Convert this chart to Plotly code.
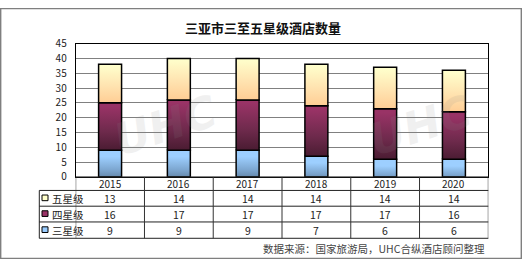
import plotly.graph_objects as go

years = ["2015", "2016", "2017", "2018", "2019", "2020"]
series_names = ["三星级", "四星级", "五星级"]
three_star = [9, 9, 9, 7, 6, 6]
four_star = [16, 17, 17, 17, 17, 16]
five_star = [13, 14, 14, 14, 14, 14]
y_ticks = [0, 5, 10, 15, 20, 25, 30, 35, 40, 45]

series_values = [three_star, four_star, five_star]
gradients = [
    [[0, "#4d6985"], [0.5, "#7aa3cc"], [1, "#9dcfff"]],
    [[0, "#3e1729"], [0.5, "#6e2a4c"], [1, "#993366"]],
    [[0, "#ffc98f"], [0.5, "#ffe3b0"], [1, "#ffffcc"]],
]
swatch_colors = ["#99ccff", "#993366", "#ffffcc"]

W, H = 523, 267
def px(x):
    return x / W
def py(y):
    return 1 - y / H

plot_l, plot_r, plot_t, plot_b = 75.7, 488.3, 37.7, 179.0
row_lines = [179.0, 193.3, 210.0, 226.7, 244.0]
table_l = 39.3

fig = go.Figure()
half = 0.167
n = len(years)
for s, vals in enumerate(series_values):
    for i, v in enumerate(vals):
        base = sum(series_values[k][i] for k in range(s))
        top = base + v
        fig.add_trace(go.Scatter(
            x=[i - half, i + half, i + half, i - half, i - half],
            y=[base, base, top, top, base],
            mode="lines", fill="toself",
            fillgradient=dict(type="vertical", colorscale=gradients[s], start=base, stop=top),
            line=dict(color="#000000", width=1.5),
            hoverinfo="text", text=f"{years[i]} {series_names[s]}: {v}",
            showlegend=False,
        ))

shapes = []
# outer border
shapes.append(dict(type="rect", xref="paper", yref="paper", x0=px(0.7), x1=px(521.3), y0=py(265.3), y1=py(0.7),
                   line=dict(color="#7f7f7f", width=1.4), layer="below"))
# table horizontal lines
for k, ry in enumerate(row_lines):
    x0 = plot_l if k == 0 else table_l
    shapes.append(dict(type="line", xref="paper", yref="paper", x0=px(x0), x1=px(plot_r), y0=py(ry), y1=py(ry),
                       line=dict(color="#222222", width=1)))
# table vertical lines
for k in range(n + 1):
    shapes.append(dict(type="line", xref="x", yref="paper", x0=k - 0.5, x1=k - 0.5, y0=py(row_lines[0]), y1=py(row_lines[-1]),
                       line=dict(color="#333333", width=1)))
shapes.append(dict(type="line", xref="paper", yref="paper", x0=px(table_l), x1=px(table_l), y0=py(row_lines[1]), y1=py(row_lines[-1]),
                   line=dict(color="#222222", width=1)))

annotations = []
# header years
for i, yr in enumerate(years):
    annotations.append(dict(x=i, y=py((row_lines[0] + row_lines[1]) / 2), xref="x", yref="paper", text=yr, showarrow=False,
                             font=dict(size=10, color="#222222", family="Noto Sans CJK SC"), xanchor="center", yanchor="middle"))
# rows: five, four, three
row_order = [2, 1, 0]
for r, s in enumerate(row_order):
    cy = (row_lines[r + 1] + row_lines[r + 2]) / 2
    sw = 6
    shapes.append(dict(type="rect", xref="paper", yref="paper", x0=px(42), x1=px(42 + sw), y0=py(cy - 3.5 + sw), y1=py(cy - 3.5),
                       fillcolor=swatch_colors[s], line=dict(color="#000000", width=1)))
    annotations.append(dict(x=px(49.5), y=py(cy), xref="paper", yref="paper", text=series_names[s], showarrow=False,
                             font=dict(size=10.5, color="#222222", family="Noto Sans CJK SC"), xanchor="left", yanchor="middle"))
    for i, v in enumerate(series_values[s]):
        annotations.append(dict(x=i, y=py(cy), xref="x", yref="paper", text=str(v), showarrow=False,
                                 font=dict(size=10.5, color="#222222", family="Noto Sans CJK SC"), xanchor="center", yanchor="middle"))

# title
annotations.append(dict(x=px(263), y=py(21), xref="paper", yref="paper", text="<b>三亚市三至五星级酒店数量</b>", showarrow=False,
                        font=dict(size=13, color="#111111", family="Noto Sans CJK SC"), xanchor="center", yanchor="middle"))
# source
annotations.append(dict(x=px(487), y=py(255), xref="paper", yref="paper", text="数据来源：国家旅游局，UHC合纵酒店顾问整理", showarrow=False,
                        font=dict(size=10.5, color="#444444", family="Noto Sans CJK SC"), xanchor="right", yanchor="middle"))
# watermark
for wx in (165, 420):
    annotations.append(dict(x=px(wx), y=py(125), xref="paper", yref="paper", text="<b><i>UHC</i></b>", showarrow=False,
                            textangle=-18, opacity=0.12,
                            font=dict(size=44, color="#888888", family="DejaVu Sans"), xanchor="center", yanchor="middle"))

fig.update_layout(
    width=W, height=H, margin=dict(l=0, r=0, t=0, b=0),
    paper_bgcolor="white", plot_bgcolor="white",
    showlegend=False,
    shapes=shapes, annotations=annotations,
    xaxis=dict(domain=[px(plot_l), px(plot_r)], range=[-0.5, n - 0.5], showticklabels=False, showgrid=False,
               zeroline=False, showline=True, linecolor="#000000", linewidth=1, mirror=True, fixedrange=True),
    yaxis=dict(domain=[py(plot_b), py(plot_t)], range=[0, 45], tickvals=y_ticks, showgrid=True, gridcolor="#808080",
               gridwidth=1, zeroline=False, showline=True, linecolor="#000000", linewidth=1, mirror=True,
               ticks="", ticklabelstandoff=6, tickfont=dict(size=10, color="#222222", family="Noto Sans CJK SC"), fixedrange=True),
)

fig.write_html("out.html")
